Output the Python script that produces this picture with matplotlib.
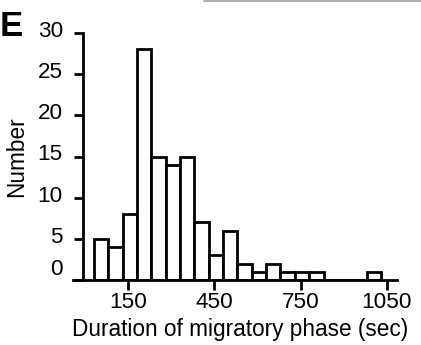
import matplotlib
matplotlib.use('Agg')
import matplotlib.pyplot as plt
import matplotlib.transforms as mtransforms
from matplotlib.lines import Line2D

# histogram counts, 50 s bins starting at 30 s
bin_start = 30
bin_width = 50
counts = [5, 4, 8, 28, 15, 14, 15, 7, 3, 6, 2, 1, 2, 1, 1, 1, 0, 0, 0, 1]
x_ticks = [150, 450, 750, 1050]
y_ticks = [0, 5, 10, 15, 20, 25, 30]


def main():
    '''histogram of migratory phase durations'''
    plt.rcParams['font.family'] = ['Liberation Sans', 'DejaVu Sans']
    fig = plt.figure(figsize=(4.21, 3.45), dpi=100)
    W, H = 421, 345
    ax = fig.add_axes([73 / W, (H - 280) / H, (397 - 73) / W, (280 - 33) / H])

    edges = [bin_start + i * bin_width for i in range(len(counts))]
    ax.bar(edges, counts, width=bin_width, align='edge', color='white',
           edgecolor='black', linewidth=2.0, zorder=2)

    ax.set_xlim(-42.7, 1086)
    ax.set_ylim(0, 30)
    for s in ['top', 'right']:
        ax.spines[s].set_visible(False)
    ax.spines['left'].set_position(('data', -9))
    ax.spines['left'].set_linewidth(2.0)
    ax.spines['bottom'].set_linewidth(2.0)
    ax.spines['bottom'].set_zorder(3)

    ax.set_xticks(x_ticks)
    ax.set_yticks(y_ticks)
    ax.tick_params(axis='x', direction='out', length=7.2, width=2.0,
                   pad=1.5, labelsize=16.2)
    ax.tick_params(axis='y', direction='out', length=6.7, width=2.0,
                   pad=7.5, labelsize=16.2)

    for lab, v in zip(ax.get_yticklabels(), y_ticks):
        dy = 13 if v == 0 else 4
        off = mtransforms.ScaledTranslation(0, dy / 100, fig.dpi_scale_trans)
        lab.set_transform(lab.get_transform() + off)

    ax.set_xlabel('Duration of migratory phase (sec)', fontsize=16.3)
    ax.set_ylabel('Number', fontsize=16.3)
    ax.xaxis.set_label_coords(0.517, -0.152)
    ax.yaxis.set_label_coords(-0.14, 0.5)

    fig.text(0.0, 1 - 26 / H, 'E', fontsize=25, fontweight='bold',
             ha='left', va='center')
    fig.add_artist(Line2D([204 / W, 1], [1 - 0.8 / H, 1 - 0.8 / H],
                          color='#a0a0a0', linewidth=1.2))

    fig.savefig('out.png', dpi=100)


if __name__ == '__main__':
    main()
